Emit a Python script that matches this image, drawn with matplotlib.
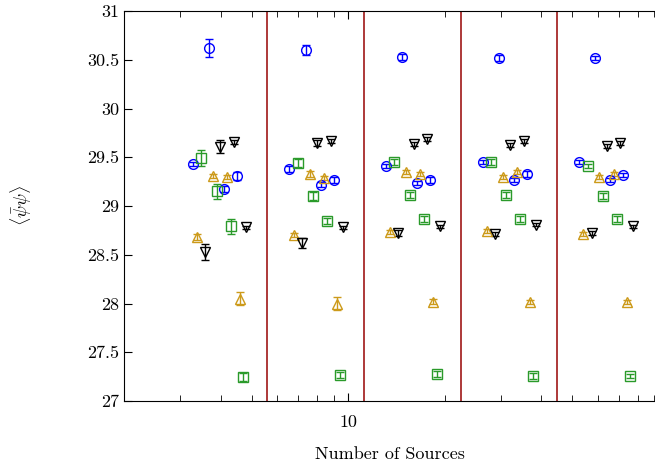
import numpy as np
import matplotlib
matplotlib.use('Agg')
import matplotlib.pyplot as plt
from matplotlib.ticker import LogLocator, NullFormatter, FixedLocator

plt.rcParams['font.family'] = ['cmr10', 'DejaVu Serif']
plt.rcParams['mathtext.fontset'] = 'cm'
plt.rcParams['axes.formatter.use_mathtext'] = True

# number of sources per block
n_src = [4, 8, 16, 32, 64]

# four variants per method, values per block (rows = block, cols = variant)
blue = [[29.43, 30.62, 29.17, 29.31],
        [29.38, 30.60, 29.22, 29.27],
        [29.41, 30.53, 29.24, 29.27],
        [29.45, 30.52, 29.27, 29.33],
        [29.45, 30.52, 29.27, 29.32]]
blue_err = [[0.02, 0.09, 0.03, 0.04],
            [0.03, 0.05, 0.03, 0.03],
            [0.02, 0.03, 0.02, 0.03],
            [0.02, 0.03, 0.02, 0.03],
            [0.02, 0.02, 0.02, 0.02]]

orange = [[28.68, 29.31, 29.30, 28.05],
          [28.70, 29.33, 29.29, 28.00],
          [28.73, 29.35, 29.33, 28.02],
          [28.74, 29.30, 29.35, 28.02],
          [28.71, 29.30, 29.33, 28.02]]
orange_err = [[0.03, 0.02, 0.02, 0.07],
              [0.02, 0.03, 0.02, 0.07],
              [0.02, 0.02, 0.02, 0.03],
              [0.02, 0.02, 0.02, 0.02],
              [0.02, 0.02, 0.02, 0.02]]

green = [[29.49, 29.15, 28.79, 27.25],
         [29.44, 29.10, 28.85, 27.27],
         [29.45, 29.11, 28.87, 27.28],
         [29.45, 29.11, 28.87, 27.26],
         [29.41, 29.10, 28.87, 27.26]]
green_err = [[0.08, 0.08, 0.08, 0.04],
             [0.04, 0.04, 0.03, 0.03],
             [0.03, 0.03, 0.03, 0.03],
             [0.03, 0.03, 0.03, 0.03],
             [0.02, 0.03, 0.03, 0.02]]

black = [[28.53, 29.61, 29.66, 28.78],
         [28.62, 29.65, 29.67, 28.78],
         [28.72, 29.64, 29.69, 28.79],
         [28.71, 29.63, 29.67, 28.81],
         [28.72, 29.62, 29.65, 28.79]]
black_err = [[0.08, 0.07, 0.02, 0.02],
             [0.05, 0.03, 0.02, 0.02],
             [0.03, 0.02, 0.02, 0.02],
             [0.02, 0.02, 0.02, 0.02],
             [0.02, 0.02, 0.02, 0.02]]

# plotting order inside a block: blue, orange, green, black, repeated per variant
series = [(blue, blue_err, 'o', '#0000ff'),
          (orange, orange_err, '^', '#cc9a1a'),
          (green, green_err, 's', '#2a9a2a'),
          (black, black_err, 'v', '#000000')]

fig = plt.figure(figsize=(6.55, 4.68), dpi=100)
ax = fig.add_axes([124/655, 67/468, 531/655, 390/468])

n = np.array(n_src, dtype=float)
for j, (vals, errs, mk, col) in enumerate(series):
    vals = np.array(vals)
    errs = np.array(errs)
    for v in range(4):
        k = 4*v + j
        xs = n*(0.82 + 0.0256*k)
        ax.errorbar(xs, vals[:, v], yerr=errs[:, v], fmt=mk, mfc='none', mec=col,
                    ecolor=col, color=col, ms=7, mew=1.0, elinewidth=1.0,
                    capsize=3, capthick=1.0)

# block separators
for a, b in zip(n_src[:-1], n_src[1:]):
    ax.axvline(np.sqrt(a*b)*0.99, color='#a01818', lw=1.2)

ax.set_xscale('log')
ax.set_xlim(2, 90.5)
ax.set_ylim(27, 31)
ax.xaxis.set_major_locator(FixedLocator([10]))
ax.xaxis.set_minor_locator(LogLocator(base=10, subs=np.arange(2, 10)))
ax.xaxis.set_minor_formatter(NullFormatter())
ax.set_xticklabels(['10'])
ax.set_yticks(np.arange(27, 31.01, 0.5))
ax.set_yticklabels(['27', '27.5', '28', '28.5', '29', '29.5', '30', '30.5', '31'])
ax.tick_params(which='both', direction='in', top=True, right=False, labelsize=13)
ax.tick_params(which='major', length=6)
ax.tick_params(which='minor', length=4)
ax.tick_params(axis='x', pad=10)
ax.spines['right'].set_visible(False)

ax.set_xlabel('Number of Sources', fontsize=13, labelpad=12)
ax.set_ylabel(r'$\langle\bar{\psi}\psi\rangle$', fontsize=13, labelpad=38)

fig.savefig('out.png', dpi=100)
